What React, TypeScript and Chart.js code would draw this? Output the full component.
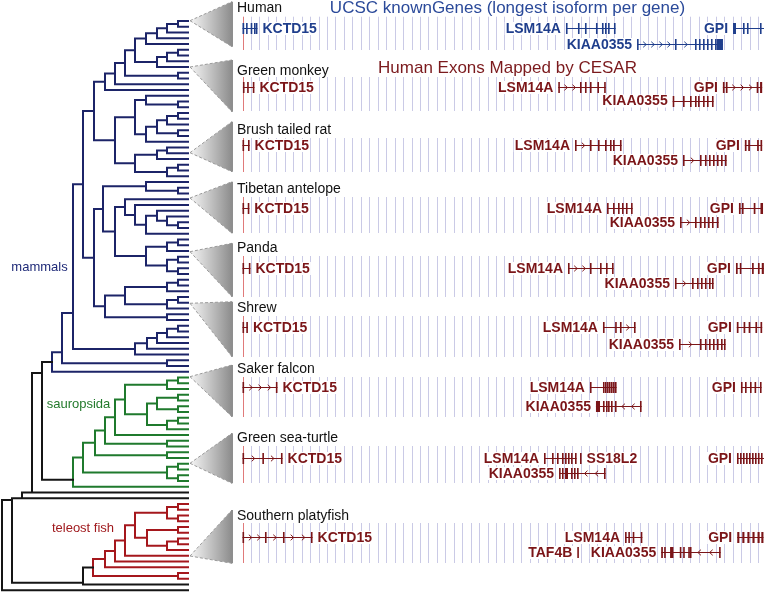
import React, { useEffect, useRef } from "react";
import { Chart, registerables } from "chart.js";

Chart.register(...registerables);

const FONT = '"Liberation Sans", Arial, Helvetica, sans-serif';

// ---------------- Tree topology (Newick-like: '*' = leaf, number after ')' = node depth,
// optional '@n' = node position in leaf units, optional letter = clade colour) ----------------
const primates = "((((((((*,*)178,*)167,*)157,*)146,(((*,*)178,*)167,*)157)135,(*,*)178)125,*)115,*)105";
const glires = "(((*,(*,*)178)146,((((*,*)178,*)167,(*,*)178)157,*)146)135,(((*,*)167,*)157,((*,*)178,*)167)135)115";
const laurasiatheriaA = "((*,(*,*)178)146,((*,(*,((*,(*,(*,*)178)167)157,*)146)135)125,(((*,*)178,*)167,((*,*)178,(*,*)178)167)146)115)103";
const laurasiatheriaB = "(((*,*)178,*)167,((*,*)178,*)167)125";
const afrotheria = "(((((*,*)178,*)167,*)157,*)147,*)135";
const birds = "(((*,*)178,*)167,(((*,*)178,(*,*)178)157,((*,*)178,*)167)147)125";
const teleostCore = "(((*,*)178,(*,*)178)167,((*,*)178,((*,*)178,*)167)147)135";

const euarchontoglires = `(${primates},${glires})94`;
const laurasiatheria = `(${laurasiatheriaA},(${laurasiatheriaB},(*,*)167)105)94`;
const boreoeutheria = `(${euarchontoglires},${laurasiatheria})83`;
const eutheria = `(${boreoeutheria},${afrotheria})73@50.8`;
const theria = `(${eutheria},(*,*)167)62@57.6`;
const mammalia = `(${theria},*)52n`;
const saur115 = `(${birds},*)115`;
const saur105 = `(${saur115},(*,*)167)105`;
const saur95 = `(${saur105},(*,*)167)95`;
const saur83 = `(${saur95},((*,*)178,(*,*)178)167)83`;
const sauropsida = `(${saur83},*)73@79.8g`;
const amniota = `(${mammalia},${sauropsida})42@61.2`;
const tetrapoda = `(${amniota},*)32@82`;
const node22 = `(${tetrapoda},*)22@83`;
const tel125 = `(${teleostCore},*)125`;
const tel115 = `(${tel125},*)115`;
const tel105 = `(${tel115},*)105`;
const teleostei = `(${tel105},(*,*)178)93r`;
const fishNode = `(${teleostei},*)83@97.7`;
const node12 = `(${node22},${fishNode})12@83.3`;
const treeNewick = `(${node12},*)2`;

const TIP_X = 188;
const TREE_COLORS: Record<string, string> = { k: "#151515", n: "#1c2468", g: "#1f7a2d", r: "#a5171c" };

// clade labels
const cladeLabels = ["mammals", "sauropsida", "teleost fish"];
const cladeLabelColors = ["#1f2a78", "#237a2c", "#a01a1e"];
const cladeLabelX = [39.5, 78.5, 83];
const cladeLabelY = [267, 404, 528];

// ---------------- Panels ----------------
const species = [
  "Human", "Green monkey", "Brush tailed rat", "Tibetan antelope", "Panda",
  "Shrew", "Saker falcon", "Green sea-turtle", "Southern platyfish",
];
const titleY = [6.7, 70, 129, 188, 247, 307, 368, 437, 515];
const row1Y = [28, 87, 145, 208, 268, 327, 387, 458, 537];
const row2Y = [44, 100.5, 160, 222, 283, 344, 406, 473, 552];
const gridTop = [16.7, 77, 138, 197, 256, 316, 377, 446, 523];
const gridBottom = [50, 111, 172, 233, 297, 357, 417, 483, 563];
const triTop = [1.7, 60, 121.7, 181.7, 243.3, 301.7, 365, 433.3, 510];
const triBottom = [46.7, 111.7, 171.7, 233.3, 296.7, 356.7, 416.7, 483.3, 563.3];
const triApex = [20.7, 67, 152.7, 198, 251.7, 303.3, 376.7, 463.3, 556];

const headerTop = "UCSC knownGenes (longest isoform per gene)";
const headerCesar = "Human Exons Mapped by CESAR";

// gene: [name, row, strand, label side, exons in kb (single number = narrow exon)]
type Gene = [string, number, number, string, (number | number[])[]];
const humanGenes: Gene[] = [
  ["KCTD15", 1, 1, "R", [[0, 0.2], 0.42, 0.97, 1.36, [1.58, 1.72]]],
  ["LSM14A", 1, 1, "L", [38.28, 39.7, 40.53, 41.83, 42.54, 42.9, 43.26, 43.96]],
  ["GPI", 1, 1, "L", [[58.05, 58.4], 59.23, 59.7, 61.24, 62.4]],
  ["KIAA0355", 2, 1, "L", [46.69, 51.18, 53.55, 54.02, 54.5, 54.97, 55.44, 55.92, [56.15, 56.86]]],
];
const monkeyGenes: Gene[] = [
  ["KCTD15", 1, 1, "R", [[0.05, 0.2], [0.55, 0.68], [1.22, 1.35]]],
  ["LSM14A", 1, 1, "L", [37.37, 39.94, 40.53, 41.12, 42.0, [42.8, 42.95]]],
  ["GPI", 1, 1, "L", [[56.85, 57.05], [57.2, 57.4], [60.85, 61.05], [61.25, 61.5]]],
  ["KIAA0355", 2, 1, "L", [50.91, 52.13, 52.96, 53.55, 53.91, 54.5, 54.97, 55.56]],
];
const ratGenes: Gene[] = [
  ["KCTD15", 1, 1, "R", [[0, 0.15], [0.65, 0.8]]],
  ["LSM14A", 1, 1, "L", [39.35, 41.12, 42.07, 42.9, 43.49, 43.85, 44.67]],
  ["GPI", 1, 1, "L", [[59.45, 59.65], [59.85, 60.05], [60.9, 61.1], [61.3, 61.5]]],
  ["KIAA0355", 2, 1, "L", [52.13, 54.14, 54.73, 55.21, 55.68, 56.15, 56.63, 57.1]],
];
const antelopeGenes: Gene[] = [
  ["KCTD15", 1, 1, "R", [[0, 0.15], [0.62, 0.77]]],
  ["LSM14A", 1, 1, "L", [43.14, 43.85, 44.44, 44.91, 45.38, 45.98]],
  ["GPI", 1, 1, "L", [[58.75, 58.95], [59.1, 59.3], [60.5, 60.7], [61.3, 61.6]]],
  ["KIAA0355", 2, 1, "L", [51.78, 53.55, 54.14, 54.62, 55.09, 55.56, 56.15]],
];
const pandaGenes: Gene[] = [
  ["KCTD15", 1, 1, "R", [[0, 0.15], [0.75, 0.9]]],
  ["LSM14A", 1, 1, "L", [38.52, 41.12, 42.31, 43.02, 43.73]],
  ["GPI", 1, 1, "L", [[58.4, 58.6], [58.85, 59.0], [60.3, 60.5], [61.0, 61.2], [61.45, 61.7]]],
  ["KIAA0355", 2, 1, "L", [51.18, 53.2, 53.79, 54.26, 54.73, 55.21, 55.56]],
];
const shrewGenes: Gene[] = [
  ["KCTD15", 1, 1, "R", [[0, 0.15], [0.45, 0.58]]],
  ["LSM14A", 1, 1, "L", [42.66, 44.1, 44.67, 46.33]],
  ["GPI", 1, 1, "L", [[58.5, 58.7], [59.3, 59.5], [59.9, 60.1], [60.7, 60.9], [61.3, 61.5]]],
  ["KIAA0355", 2, 1, "L", [51.66, 54.14, 54.73, 55.21, 55.68, 56.15, 56.63, 56.98]],
];
const falconGenes: Gene[] = [
  ["KCTD15", 1, 1, "R", [[0, 0.15], [3.95, 4.1]]],
  ["LSM14A", 1, 1, "L", [41.12, 42.66, 42.9, 43.14, 43.37, 43.61, 43.85, 44.08]],
  ["GPI", 1, 1, "L", [[58.99, 59.15], [59.47, 59.63], 60.06, [60.6, 60.75], 61.24]],
  ["KIAA0355", 2, -1, "L", [[41.83, 42.31], 42.66, 43.02, 43.26, 43.61, 44.08, 47.04]],
];
const turtleGenes: Gene[] = [
  ["KCTD15", 1, 1, "R", [[0, 0.15], 2.35, [4.55, 4.7]]],
  ["LSM14A", 1, 1, "L", [35.68, 36.63, 37.22, 37.81, 38.17, 38.52, 38.88, 39.35]],
  ["SS18L2", 1, 1, "R", [39.94]],
  ["GPI", 1, 1, "L", [58.52, 58.88, 59.23, 59.59, 59.94, 60.3, 60.65, 61.0, 61.36, 61.72]],
  ["KIAA0355", 2, -1, "L", [37.46, 37.81, [38.17, 38.52], 38.88, 39.23, 39.59, 42.78]],
];
const platyfishGenes: Gene[] = [
  ["KCTD15", 1, 1, "R", [[0, 0.12], 2.66, 4.79, [8.1, 8.22]]],
  ["LSM14A", 1, 1, "L", [45.27, 45.66, 46.18, 47.13]],
  ["GPI", 1, 1, "L", [[58.55, 58.8], [59.15, 59.4], [59.75, 60.0], [60.35, 60.6], [60.95, 61.2], [61.4, 61.65]]],
  ["TAF4B", 2, 1, "L", [39.62]],
  ["KIAA0355", 2, -1, "L", [[49.55, 49.75], [49.9, 50.05], [50.6, 51.0], 51.75, 52.15, 52.75, 52.95, 56.4]],
];
const panelGenes = [humanGenes, monkeyGenes, ratGenes, antelopeGenes, pandaGenes, shrewGenes, falconGenes, turtleGenes, platyfishGenes];

const HUMAN_BLUE = "#1f3e8c";
const CESAR_RED = "#7b1518";

// ---------------- tree helpers ----------------
interface TNode { x: number; kids: TNode[]; tag?: string; fixY?: number; y: number; }

function parseNewick(s: string): TNode {
  let i = 0;
  const num = () => {
    let t = "";
    while (i < s.length && /[0-9.]/.test(s[i])) t += s[i++];
    return parseFloat(t);
  };
  const node = (): TNode => {
    if (s[i] === "*") { i++; return { x: TIP_X, kids: [], y: 0 }; }
    i++;
    const kids = [node()];
    while (s[i] === ",") { i++; kids.push(node()); }
    i++;
    const n: TNode = { x: num(), kids, y: 0 };
    if (s[i] === "@") { i++; n.fixY = num(); }
    if (i < s.length && /[a-z]/.test(s[i])) n.tag = s[i++];
    return n;
  };
  return node();
}

function layoutTree(root: TNode) {
  let leaf = 0;
  const walk = (n: TNode) => {
    if (!n.kids.length) { n.y = leaf++; return; }
    n.kids.forEach(walk);
    n.y = n.fixY ?? (n.kids[0].y + n.kids[n.kids.length - 1].y) / 2;
  };
  walk(root);
  return leaf;
}

function treeSegments(root: TNode) {
  const segs: Record<string, { x: number | null; y: number | null }[]> = { k: [], n: [], g: [], r: [] };
  const add = (c: string, x1: number, y1: number, x2: number, y2: number) => {
    segs[c].push({ x: x1, y: y1 }, { x: x2, y: y2 }, { x: null, y: null });
  };
  const walk = (n: TNode, parentX: number | null, col: string) => {
    if (parentX !== null) add(col, parentX, n.y, n.x, n.y);
    if (!n.kids.length) return;
    const c = n.tag ?? col;
    add(c, n.x, n.kids[0].y, n.x, n.kids[n.kids.length - 1].y);
    n.kids.forEach((k) => walk(k, n.x, c));
  };
  walk(root, null, "k");
  return segs;
}

const LEAF_TOP = 21;
const LEAF_STEP = 5.75;
const KB_ORIGIN = 242.5;
const KB_PX = 8.45;

// ---------------- drawing plugin ----------------
function drawGene(ctx: CanvasRenderingContext2D, G: any, gene: Gene, y: number, color: string) {
  const [name, , dir, side, exons] = gene;
  const ex = exons.map((e) => (Array.isArray(e) ? e : [e, e + 0.18]));
  const px = ex.map(([s, e]) => {
    const a = G.getPixelForValue(s);
    const b = Math.max(G.getPixelForValue(e), a + 1.6);
    return [a, b];
  });
  const x0 = px[0][0];
  const x1 = px[px.length - 1][1];
  ctx.strokeStyle = color;
  ctx.fillStyle = color;
  ctx.lineWidth = 1;
  ctx.setLineDash([]);
  if (px.length > 1) {
    ctx.beginPath();
    ctx.moveTo(x0, Math.round(y) + 0.5);
    ctx.lineTo(x1, Math.round(y) + 0.5);
    ctx.stroke();
    for (let k = 0; k < px.length - 1; k++) {
      const a = px[k][1] + 2;
      const b = px[k + 1][0] - 2;
      const L = b - a;
      const n = Math.floor(L / 8);
      for (let j = 0; j < n; j++) {
        const cx = a + (j + 0.5) * (L / n);
        const yy = Math.round(y) + 0.5;
        ctx.beginPath();
        ctx.moveTo(cx - 1.5 * dir, yy - 2.8);
        ctx.lineTo(cx + 1.5 * dir, yy);
        ctx.lineTo(cx - 1.5 * dir, yy + 2.8);
        ctx.stroke();
      }
    }
  }
  px.forEach(([a, b]) => ctx.fillRect(a, Math.round(y) - 5, b - a, 11));
  ctx.font = `bold 14px ${FONT}`;
  ctx.textBaseline = "middle";
  const w = ctx.measureText(name).width;
  const tx = side === "L" ? x0 - 5 - w : x1 + 5;
  ctx.fillStyle = "#ffffff";
  ctx.fillRect(tx - 1, y - 6, w + 2, 13);
  ctx.fillStyle = color;
  ctx.textAlign = "left";
  ctx.fillText(name, tx, y + 1);
}

const panelPlugin = {
  id: "panels",
  afterDatasetsDraw(chart: any) {
    const ctx: CanvasRenderingContext2D = chart.ctx;
    const X = chart.scales.x;
    const Y = chart.scales.yp;
    const G = chart.scales.xg;
    ctx.save();

    // clade labels
    ctx.font = `13px ${FONT}`;
    ctx.textAlign = "center";
    ctx.textBaseline = "middle";
    cladeLabels.forEach((t, i) => {
      ctx.fillStyle = cladeLabelColors[i];
      ctx.fillText(t, X.getPixelForValue(cladeLabelX[i]), Y.getPixelForValue(cladeLabelY[i]));
    });

    // zoom triangles
    const ax = X.getPixelForValue(190);
    const bx = X.getPixelForValue(232);
    species.forEach((_, i) => {
      const ay = Y.getPixelForValue(triApex[i]);
      const ty = Y.getPixelForValue(triTop[i]);
      const by = Y.getPixelForValue(triBottom[i]);
      const grad = ctx.createLinearGradient(ax, 0, bx, 0);
      grad.addColorStop(0, "#f6f6f6");
      grad.addColorStop(1, "#8c8c8c");
      ctx.fillStyle = grad;
      ctx.beginPath();
      ctx.moveTo(ax, ay);
      ctx.lineTo(bx, ty);
      ctx.lineTo(bx, by);
      ctx.closePath();
      ctx.fill();
      ctx.strokeStyle = "#9a9a9a";
      ctx.lineWidth = 1;
      ctx.setLineDash([3, 2]);
      ctx.beginPath();
      ctx.moveTo(ax, ay);
      ctx.lineTo(bx, ty);
      ctx.moveTo(ax, ay);
      ctx.lineTo(bx, by);
      ctx.stroke();
      ctx.setLineDash([]);
      ctx.strokeStyle = "#8e8e8e";
      ctx.lineWidth = 2;
      ctx.beginPath();
      ctx.moveTo(bx, ty);
      ctx.lineTo(bx, by);
      ctx.stroke();
    });

    // grid lines per panel
    species.forEach((_, i) => {
      const t = Y.getPixelForValue(gridTop[i]);
      const b = Y.getPixelForValue(gridBottom[i]);
      for (let k = 0; k <= Math.floor(G.max); k++) {
        const px = Math.round(G.getPixelForValue(k)) + 0.5;
        ctx.strokeStyle = k === 0 ? "#e07a7a" : "#cacae6";
        ctx.lineWidth = 1;
        ctx.beginPath();
        ctx.moveTo(px, t);
        ctx.lineTo(px, b);
        ctx.stroke();
      }
    });

    // headers
    ctx.textAlign = "center";
    ctx.textBaseline = "middle";
    ctx.font = `17px ${FONT}`;
    ctx.fillStyle = "#2b4a9a";
    ctx.fillText(headerTop, X.getPixelForValue(507.5), Y.getPixelForValue(8.6));
    ctx.fillStyle = "#7b1a1d";
    ctx.fillText(headerCesar, X.getPixelForValue(507.5), Y.getPixelForValue(68.6));

    // species titles
    ctx.textAlign = "left";
    ctx.font = `14px ${FONT}`;
    ctx.fillStyle = "#111111";
    species.forEach((s, i) => {
      ctx.fillText(s, X.getPixelForValue(237), Y.getPixelForValue(titleY[i]) + 1);
    });

    // genes
    panelGenes.forEach((genes, i) => {
      const col = i === 0 ? HUMAN_BLUE : CESAR_RED;
      genes.forEach((g) => {
        const y = Y.getPixelForValue(g[1] === 1 ? row1Y[i] : row2Y[i]);
        drawGene(ctx, G, g, y, col);
      });
    });

    ctx.restore();
  },
};

export default function App() {
  const ref = useRef<HTMLCanvasElement>(null);
  useEffect(() => {
    document.body.style.margin = "0";
    const tree = parseNewick(treeNewick);
    layoutTree(tree);
    const segs = treeSegments(tree);
    const datasets = Object.keys(segs).map((c) => ({
      data: segs[c],
      showLine: true,
      borderColor: TREE_COLORS[c],
      backgroundColor: TREE_COLORS[c],
      borderWidth: 2,
      pointRadius: 0,
      pointHoverRadius: 0,
      borderCapStyle: "square" as const,
      spanGaps: false,
      tension: 0,
      xAxisID: "x",
      yAxisID: "yt",
    }));
    const chart = new Chart(ref.current!, {
      type: "scatter",
      data: { datasets: datasets as any },
      options: {
        responsive: false,
        animation: false,
        devicePixelRatio: 1,
        events: [],
        layout: { padding: 0 },
        plugins: { legend: { display: false }, tooltip: { enabled: false } },
        scales: {
          x: { type: "linear", min: 0, max: 764, display: false },
          yt: {
            type: "linear", axis: "y", reverse: true, display: false,
            min: -LEAF_TOP / LEAF_STEP, max: -LEAF_TOP / LEAF_STEP + 592 / LEAF_STEP,
          },
          yp: { type: "linear", axis: "y", reverse: true, display: false, min: 0, max: 592 },
          xg: {
            type: "linear", axis: "x", display: false,
            min: -KB_ORIGIN / KB_PX, max: (764 - KB_ORIGIN) / KB_PX,
          },
        },
      } as any,
      plugins: [panelPlugin],
    });
    return () => chart.destroy();
  }, []);
  return (
    <canvas
      ref={ref}
      width={764}
      height={592}
      style={{ display: "block", width: 764, height: 592 }}
    />
  );
}
